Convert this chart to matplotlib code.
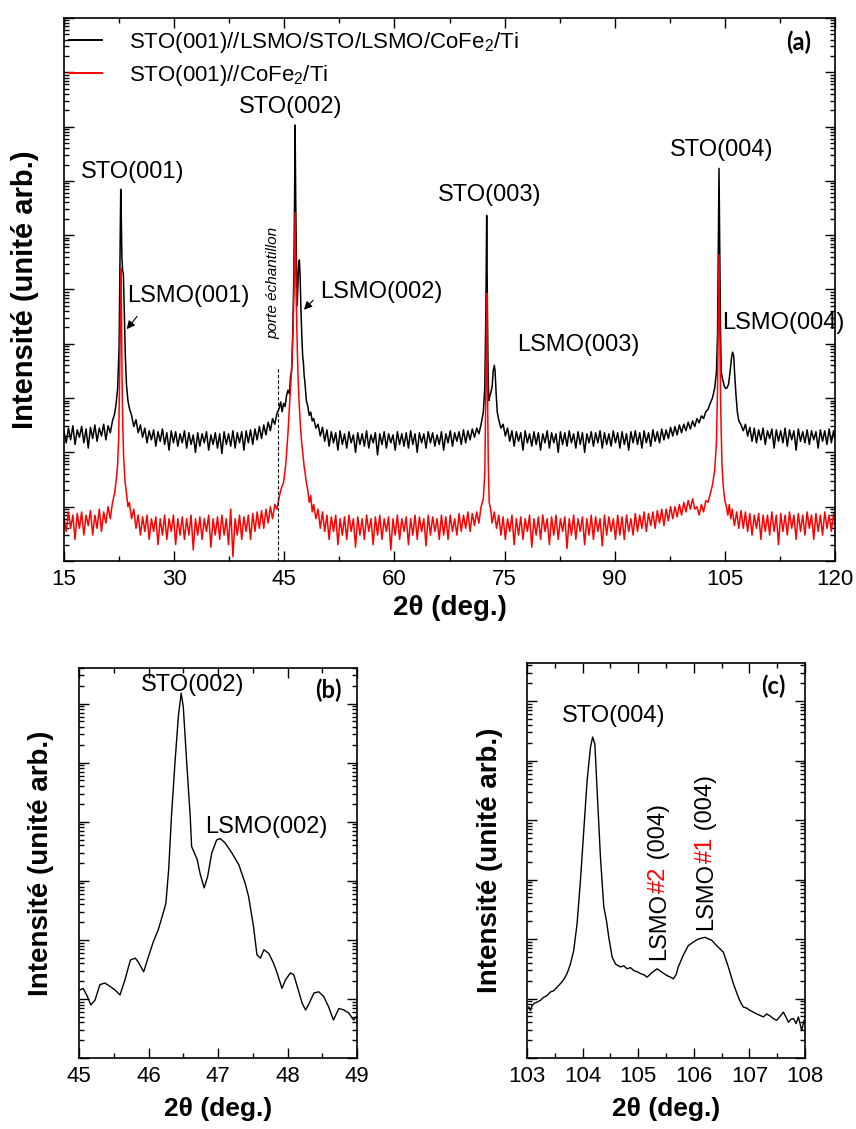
import matplotlib.pyplot as plt
from matplotlib.ticker import MultipleLocator, LogLocator, NullFormatter

plt.rcParams['font.family'] = ['Liberation Sans', 'DejaVu Sans']
plt.rcParams['mathtext.default'] = 'regular'

# ---- panel (a): full scans, (2theta, counts) ----
a_black = [
    (15.0, 240), (15.3, 150), (15.6, 280), (15.9, 170), (16.2, 310), (16.5, 140), (16.8, 260),
    (17.1, 190), (17.4, 300), (17.7, 150), (18.0, 270), (18.3, 120), (18.6, 290), (18.9, 180),
    (19.2, 320), (19.5, 160), (19.8, 280), (20.1, 200), (20.4, 330), (20.7, 170), (21.0, 310),
    (21.3, 230), (21.6, 380), (21.9, 520), (22.1, 800), (22.3, 1500), (22.5, 9000), (22.62, 3e5),
    (22.72, 7e6), (22.8, 2e6), (22.88, 4e5), (22.98, 2.2e5), (23.08, 2e5), (23.2, 4e4),
    (23.35, 6000), (23.5, 1800), (23.7, 900), (23.9, 650), (24.2, 480), (24.5, 300), (24.8, 400),
    (25.1, 230), (25.4, 320), (25.7, 190), (26.0, 280), (26.3, 150), (26.6, 250), (26.9, 170),
    (27.2, 260), (27.5, 130), (27.8, 240), (28.1, 160), (28.4, 270), (28.7, 140), (29.0, 230),
    (29.3, 110), (29.6, 250), (29.9, 150), (30.2, 240), (30.5, 130), (30.8, 220), (31.1, 150),
    (31.4, 250), (31.7, 120), (32.0, 230), (32.3, 140), (32.6, 210), (32.9, 100), (33.2, 230),
    (33.5, 130), (33.8, 220), (34.1, 150), (34.4, 240), (34.7, 110), (35.0, 210), (35.3, 140),
    (35.6, 230), (35.9, 120), (36.2, 220), (36.5, 95), (36.8, 240), (37.1, 140), (37.4, 220),
    (37.7, 130), (38.0, 250), (38.3, 120), (38.6, 230), (38.9, 150), (39.2, 240), (39.5, 110),
    (39.8, 250), (40.1, 150), (40.4, 260), (40.7, 140), (41.0, 270), (41.3, 170), (41.6, 300),
    (41.9, 180), (42.2, 320), (42.5, 210), (42.8, 360), (43.1, 250), (43.4, 420), (43.7, 330),
    (44.0, 520), (44.3, 650), (44.5, 850), (44.7, 560), (44.9, 800), (45.1, 700), (45.3, 1100),
    (45.5, 1400), (45.7, 1200), (45.85, 2500), (46.0, 3200), (46.15, 1.5e4), (46.3, 2e5),
    (46.4, 5e6), (46.47, 1.07e8), (46.55, 5e6), (46.65, 3e5), (46.75, 5e4), (46.85, 1.2e5),
    (46.95, 3e5), (47.05, 3.5e5), (47.15, 1.8e5), (47.25, 5e4), (47.4, 1.2e4), (47.5, 6000),
    (47.6, 4500), (47.7, 2600), (47.8, 2000), (47.9, 1300), (48.0, 900), (48.2, 700), (48.4, 480),
    (48.6, 550), (48.8, 380), (49.0, 420), (49.3, 280), (49.6, 330), (49.9, 200), (50.2, 290),
    (50.5, 160), (50.8, 260), (51.1, 130), (51.4, 240), (51.7, 150), (52.0, 230), (52.3, 110),
    (52.6, 250), (52.9, 140), (53.2, 220), (53.5, 120), (53.8, 240), (54.1, 150), (54.4, 210),
    (54.7, 100), (55.0, 230), (55.3, 140), (55.6, 220), (55.9, 130), (56.2, 250), (56.5, 120),
    (56.8, 210), (57.1, 150), (57.4, 230), (57.7, 90), (58.0, 220), (58.3, 140), (58.6, 240),
    (58.9, 120), (59.2, 220), (59.5, 150), (59.8, 210), (60.1, 110), (60.4, 240), (60.7, 140),
    (61.0, 220), (61.3, 130), (61.6, 230), (61.9, 120), (62.2, 250), (62.5, 140), (62.8, 220),
    (63.1, 100), (63.4, 230), (63.7, 150), (64.0, 220), (64.3, 120), (64.6, 240), (64.9, 150),
    (65.2, 230), (65.5, 130), (65.8, 210), (66.1, 140), (66.4, 240), (66.7, 110), (67.0, 220),
    (67.3, 150), (67.6, 250), (67.9, 130), (68.2, 230), (68.5, 160), (68.8, 240), (69.1, 140),
    (69.4, 260), (69.7, 150), (70.0, 250), (70.3, 170), (70.6, 270), (70.9, 190), (71.2, 280),
    (71.5, 220), (71.8, 330), (72.1, 550), (72.3, 1500), (72.45, 4e4), (72.56, 2.3e6),
    (72.65, 6e4), (72.75, 3000), (72.85, 900), (73.0, 1100), (73.15, 1300), (73.3, 1600),
    (73.45, 3200), (73.6, 4000), (73.7, 3200), (73.85, 1200), (74.0, 550), (74.2, 400),
    (74.5, 280), (74.8, 330), (75.1, 200), (75.4, 280), (75.7, 160), (76.0, 250), (76.3, 130),
    (76.6, 240), (76.9, 160), (77.2, 230), (77.5, 110), (77.8, 250), (78.1, 150), (78.4, 220),
    (78.7, 130), (79.0, 240), (79.3, 140), (79.6, 230), (79.9, 110), (80.2, 220), (80.5, 150),
    (80.8, 250), (81.1, 120), (81.4, 230), (81.7, 150), (82.0, 220), (82.3, 100), (82.6, 240),
    (82.9, 140), (83.2, 230), (83.5, 130), (83.8, 250), (84.1, 150), (84.4, 220), (84.7, 120),
    (85.0, 240), (85.3, 140), (85.6, 230), (85.9, 100), (86.2, 220), (86.5, 150), (86.8, 240),
    (87.1, 130), (87.4, 230), (87.7, 150), (88.0, 250), (88.3, 120), (88.6, 230), (88.9, 140),
    (89.2, 220), (89.5, 130), (89.8, 250), (90.1, 150), (90.4, 230), (90.7, 120), (91.0, 240),
    (91.3, 140), (91.6, 220), (91.9, 110), (92.2, 240), (92.5, 150), (92.8, 250), (93.1, 140),
    (93.4, 230), (93.7, 120), (94.0, 250), (94.3, 150), (94.6, 230), (94.9, 130), (95.2, 260),
    (95.5, 160), (95.8, 240), (96.1, 150), (96.4, 270), (96.7, 170), (97.0, 260), (97.3, 180),
    (97.6, 290), (97.9, 200), (98.2, 300), (98.5, 210), (98.8, 320), (99.1, 230), (99.4, 330),
    (99.7, 250), (100.0, 360), (100.3, 270), (100.6, 380), (100.9, 300), (101.2, 420),
    (101.5, 350), (101.8, 470), (102.1, 420), (102.4, 560), (102.7, 620), (103.0, 800),
    (103.3, 1000), (103.6, 1500), (103.85, 3000), (104.0, 1.5e4), (104.12, 1e6), (104.2, 1.7e7),
    (104.28, 1e6), (104.4, 2e4), (104.5, 3000), (104.7, 2200), (104.9, 1700), (105.1, 1500),
    (105.3, 1550), (105.5, 1800), (105.7, 3000), (105.9, 5500), (106.05, 7000), (106.2, 6000),
    (106.35, 2500), (106.5, 1200), (106.7, 550), (106.9, 380), (107.2, 320), (107.5, 250),
    (107.8, 330), (108.1, 200), (108.4, 290), (108.7, 160), (109.0, 280), (109.3, 150),
    (109.6, 260), (109.9, 170), (110.2, 280), (110.5, 140), (110.8, 250), (111.1, 180),
    (111.4, 270), (111.7, 120), (112.0, 260), (112.3, 160), (112.6, 250), (112.9, 150),
    (113.2, 280), (113.5, 130), (113.8, 260), (114.1, 170), (114.4, 250), (114.7, 110),
    (115.0, 270), (115.3, 160), (115.6, 240), (115.9, 150), (116.2, 260), (116.5, 140),
    (116.8, 250), (117.1, 170), (117.4, 240), (117.7, 120), (118.0, 260), (118.3, 160),
    (118.6, 250), (118.9, 140), (119.2, 270), (119.5, 150), (119.8, 250), (120.0, 180),
]

a_red = [
    (15.0, 6), (15.3, 3.5), (15.6, 8), (15.9, 4), (16.2, 7), (16.5, 2.5), (16.8, 7.5), (17.1, 4),
    (17.4, 8), (17.7, 3), (18.0, 7), (18.3, 4.5), (18.6, 8.5), (18.9, 3), (19.2, 7), (19.5, 4),
    (19.8, 9), (20.1, 3.5), (20.4, 8), (20.7, 5), (21.0, 10), (21.3, 6), (21.6, 12), (21.9, 18),
    (22.1, 30), (22.3, 60), (22.45, 200), (22.58, 3000), (22.68, 5e4), (22.75, 2.5e5),
    (22.82, 4e4), (22.9, 2500), (23.0, 300), (23.12, 80), (23.3, 30), (23.5, 18), (23.7, 10),
    (23.9, 12), (24.2, 6), (24.5, 9), (24.8, 4), (25.1, 7), (25.4, 3), (25.7, 6.5), (26.0, 3.5),
    (26.3, 7), (26.6, 2.5), (26.9, 6), (27.2, 3.5), (27.5, 6.5), (27.8, 2), (28.1, 6), (28.4, 3),
    (28.7, 7), (29.0, 2.5), (29.3, 6), (29.6, 3.5), (29.9, 7), (30.2, 2), (30.5, 6), (30.8, 3),
    (31.1, 6.5), (31.4, 2.5), (31.7, 6), (32.0, 3), (32.3, 7), (32.6, 1.6), (32.9, 6), (33.2, 3),
    (33.5, 6.5), (33.8, 2.5), (34.1, 6), (34.4, 3.5), (34.7, 7), (35.0, 1.8), (35.3, 6),
    (35.6, 3), (35.9, 6.5), (36.2, 2.5), (36.5, 7), (36.8, 3), (37.1, 6), (37.4, 2), (37.7, 9),
    (38.0, 1.2), (38.3, 6), (38.6, 3), (38.9, 7), (39.2, 2.5), (39.5, 6.5), (39.8, 3.5),
    (40.1, 7), (40.4, 2.5), (40.7, 7.5), (41.0, 3.5), (41.3, 8), (41.6, 4), (41.9, 8.5),
    (42.2, 4), (42.5, 9), (42.8, 5), (43.1, 10), (43.4, 6), (43.7, 11), (44.0, 9), (44.3, 15),
    (44.6, 22), (44.9, 28), (45.2, 60), (45.5, 230), (45.75, 900), (46.0, 3700), (46.2, 2e4),
    (46.35, 1.5e5), (46.47, 2.6e6), (46.58, 1.5e5), (46.7, 2e4), (46.85, 3000), (47.0, 900),
    (47.2, 300), (47.35, 160), (47.5, 100), (47.7, 55), (47.85, 40), (48.0, 28), (48.2, 20),
    (48.4, 12), (48.6, 16), (48.8, 8), (49.0, 11), (49.3, 6), (49.6, 9), (49.9, 4), (50.2, 8),
    (50.5, 3.5), (50.8, 7), (51.1, 2.5), (51.4, 6.5), (51.7, 3.5), (52.0, 7), (52.3, 2),
    (52.6, 6), (52.9, 3), (53.2, 6.5), (53.5, 2.5), (53.8, 7), (54.1, 3.5), (54.4, 6),
    (54.7, 1.8), (55.0, 6.5), (55.3, 3), (55.6, 6), (55.9, 2.5), (56.2, 7), (56.5, 3.5),
    (56.8, 6), (57.1, 2), (57.4, 6.5), (57.7, 3), (58.0, 7), (58.3, 2.5), (58.6, 6), (58.9, 3.5),
    (59.2, 6.5), (59.5, 1.6), (59.8, 6), (60.1, 3), (60.4, 7), (60.7, 2.5), (61.0, 6),
    (61.3, 3.5), (61.6, 6.5), (61.9, 2), (62.2, 6), (62.5, 3), (62.8, 7), (63.1, 2.5),
    (63.4, 6.5), (63.7, 3.5), (64.0, 6), (64.3, 1.9), (64.6, 7), (64.9, 3), (65.2, 6.5),
    (65.5, 3.5), (65.8, 6), (66.1, 2.5), (66.4, 7), (66.7, 3), (67.0, 6.5), (67.3, 2.5),
    (67.6, 7), (67.9, 3.5), (68.2, 6), (68.5, 3), (68.8, 7.5), (69.1, 3.5), (69.4, 7), (69.7, 4),
    (70.0, 8), (70.3, 3.5), (70.6, 7.5), (70.9, 4.5), (71.2, 8), (71.5, 5), (71.8, 10),
    (72.1, 14), (72.3, 40), (72.45, 1500), (72.56, 8.5e4), (72.66, 2000), (72.78, 60),
    (72.9, 12), (73.1, 9), (73.3, 5), (73.6, 8), (73.9, 4), (74.2, 7), (74.5, 3), (74.8, 6.5),
    (75.1, 2.5), (75.4, 6), (75.7, 3.5), (76.0, 7), (76.3, 2), (76.6, 6), (76.9, 3), (77.2, 6.5),
    (77.5, 2.5), (77.8, 6), (78.1, 3.5), (78.4, 7), (78.7, 1.8), (79.0, 6), (79.3, 3),
    (79.6, 6.5), (79.9, 2.5), (80.2, 7), (80.5, 3.5), (80.8, 6), (81.1, 2), (81.4, 6.5),
    (81.7, 3), (82.0, 7), (82.3, 2.5), (82.6, 6), (82.9, 3.5), (83.2, 6.5), (83.5, 1.7),
    (83.8, 6), (84.1, 3), (84.4, 7), (84.7, 2.5), (85.0, 6), (85.3, 3.5), (85.6, 6.5), (85.9, 2),
    (86.2, 6), (86.5, 3), (86.8, 7), (87.1, 2.5), (87.4, 6.5), (87.7, 3.5), (88.0, 6),
    (88.3, 1.9), (88.6, 7), (88.9, 3), (89.2, 6.5), (89.5, 3.5), (89.8, 6), (90.1, 2.5),
    (90.4, 7), (90.7, 3), (91.0, 6.5), (91.3, 2.5), (91.6, 7), (91.9, 3.5), (92.2, 6), (92.5, 3),
    (92.8, 7.5), (93.1, 3.5), (93.4, 7), (93.7, 4), (94.0, 8), (94.3, 3.5), (94.6, 7.5),
    (94.9, 4.5), (95.2, 8), (95.5, 4), (95.8, 8.5), (96.1, 5), (96.4, 9), (96.7, 4.5), (97.0, 9),
    (97.3, 5.5), (97.6, 10), (97.9, 6), (98.2, 10), (98.5, 6.5), (98.8, 11), (99.1, 7),
    (99.4, 12), (99.7, 8), (100.0, 13), (100.3, 9), (100.6, 14), (100.9, 9), (101.2, 10),
    (101.5, 7), (101.8, 11), (102.1, 8), (102.4, 13), (102.7, 12), (103.0, 17), (103.3, 25),
    (103.6, 45), (103.85, 150), (104.0, 1500), (104.1, 3e4), (104.2, 4.4e5), (104.3, 2e4),
    (104.42, 800), (104.6, 60), (104.8, 22), (105.0, 13), (105.2, 10), (105.4, 7), (105.6, 11),
    (105.8, 6), (106.0, 9), (106.3, 4.5), (106.6, 8), (106.9, 4), (107.2, 8.5), (107.5, 4),
    (107.8, 8), (108.1, 3.5), (108.4, 7.5), (108.7, 3), (109.0, 7), (109.3, 4), (109.6, 7.5),
    (109.9, 2.5), (110.2, 7), (110.5, 3.5), (110.8, 7), (111.1, 3), (111.4, 8), (111.7, 3.5),
    (112.0, 7), (112.3, 2), (112.6, 7.5), (112.9, 3.5), (113.2, 7), (113.5, 3), (113.8, 8),
    (114.1, 4), (114.4, 7), (114.7, 2.5), (115.0, 7.5), (115.3, 3.5), (115.6, 7), (115.9, 3),
    (116.2, 8), (116.5, 4), (116.8, 7), (117.1, 2.5), (117.4, 7.5), (117.7, 3.5), (118.0, 7),
    (118.3, 3), (118.6, 8), (118.9, 4), (119.2, 7), (119.5, 3.5), (119.8, 7.5), (120.0, 5),
]

a_labels = ['STO(001)//LSMO/STO/LSMO/CoFe$_2$/Ti', 'STO(001)//CoFe$_2$/Ti']
holder_tt = 44.1        # sample holder reflection
holder_top = 3700

# ---- panel (b): zoom on the (002) reflections ----
b_tt = [45.01, 45.06, 45.12, 45.17, 45.23, 45.30, 45.37, 45.45, 45.52, 45.59, 45.66, 45.74,
        45.81, 45.85, 45.93, 46.00, 46.07, 46.14, 46.21, 46.25, 46.29, 46.33, 46.38, 46.43,
        46.47, 46.50, 46.55, 46.60, 46.62, 46.70, 46.74, 46.80, 46.85, 46.91, 46.98, 47.03,
        47.10, 47.20, 47.30, 47.39, 47.44, 47.51, 47.56, 47.61, 47.66, 47.73, 47.80, 47.85,
        47.92, 47.97, 48.04, 48.09, 48.14, 48.21, 48.26, 48.30, 48.38, 48.45, 48.52, 48.59,
        48.66, 48.74, 48.81, 48.88, 48.95, 48.99]
b_counts = [141, 151, 110, 79, 95, 174, 186, 162, 141, 117, 209, 457,
            490, 427, 288, 525, 933, 1480, 2820, 4170, 15500, 1.23e5, 9.8e5, 6.2e6,
            1.5e7, 8.9e6, 9.8e5, 1.23e5, 3.8e4, 2.3e4, 1.35e4, 7600, 1.17e4, 2.95e4, 4.9e4, 5.2e4,
            4.4e4, 2.95e4, 1.86e4, 9100, 5400, 1700, 560, 490, 680, 590, 400, 275,
            151, 209, 275, 257, 162, 85, 65, 79, 126, 132, 110, 74,
            44, 69, 65, 58, 44, 50]

# ---- panel (c): zoom on the (004) reflections ----
c_tt = [103.03, 103.06, 103.09, 103.13, 103.18, 103.24, 103.30, 103.36, 103.42, 103.48, 103.54,
        103.60, 103.66, 103.72, 103.78, 103.84, 103.90, 103.96, 104.02, 104.08, 104.14, 104.18,
        104.22, 104.26, 104.32, 104.38, 104.43, 104.47, 104.53, 104.59, 104.68, 104.74, 104.80,
        104.86, 104.92, 104.98, 105.04, 105.10, 105.16, 105.25, 105.34, 105.43, 105.51, 105.58,
        105.63, 105.68, 105.72, 105.81, 105.90, 105.99, 106.08, 106.20, 106.32, 106.41, 106.53,
        106.62, 106.71, 106.80, 106.85, 106.89, 106.95, 107.01, 107.07, 107.13, 107.19, 107.25,
        107.31, 107.37, 107.43, 107.49, 107.55, 107.61, 107.66, 107.70, 107.75, 107.79, 107.84,
        107.88, 107.94, 107.98]
c_counts = [72, 63, 76, 83, 87, 93, 105, 112, 129, 135, 155,
            178, 209, 263, 380, 646, 1820, 9550, 6.6e4, 4.6e5, 1.66e6, 2.5e6,
            1.9e6, 3.2e5, 2.4e4, 3500, 2000, 1070, 500, 380, 340, 355, 316,
            331, 295, 282, 263, 251, 229, 275, 316, 275, 245, 229,
            214, 251, 340, 537, 776, 891, 1000, 1070, 955, 776, 603,
            340, 178, 105, 83, 72, 69, 63, 59, 55, 52, 49,
            55, 51, 46, 43, 50, 59, 48, 40, 45, 46, 38,
            49, 29, 43]


def style_axes(ax, xlim, ylim, major, minor):
    ax.set_yscale('log')
    ax.set_xlim(*xlim)
    ax.set_ylim(*ylim)
    ax.xaxis.set_major_locator(MultipleLocator(major))
    ax.xaxis.set_minor_locator(MultipleLocator(minor))
    ax.yaxis.set_major_locator(LogLocator(base=10, numticks=30))
    ax.yaxis.set_minor_locator(LogLocator(base=10, subs=range(2, 10), numticks=30))
    ax.yaxis.set_major_formatter(NullFormatter())
    ax.yaxis.set_minor_formatter(NullFormatter())
    ax.tick_params(which='both', direction='in', top=True, right=True, width=1)
    ax.tick_params(which='major', length=7, labelsize=16, pad=6)
    ax.tick_params(which='minor', length=3.5)
    for sp in ax.spines.values():
        sp.set_linewidth(1.2)


def label(ax, x, y, s, ha='center'):
    ax.text(x, y, s, ha=ha, va='center', fontsize=17)


fig = plt.figure(figsize=(8.56, 11.29), dpi=100)

# (a)
ax1 = fig.add_axes([0.0748, 0.5031, 0.9007, 0.481])
tt_k, y_k = zip(*a_black)
tt_r, y_r = zip(*a_red)
ax1.plot(tt_k, y_k, color='black', lw=1.1, label=a_labels[0])
ax1.plot(tt_r, y_r, color='red', lw=1.1, label=a_labels[1])
ax1.vlines(holder_tt, 1, holder_top, colors='black', linestyles=(0, (3, 2)), lw=0.8)
style_axes(ax1, (15, 120), (1, 1e10), 15, 7.5)
ax1.set_xlabel('2θ (deg.)', fontsize=20, fontweight='bold', labelpad=3)
ax1.set_ylabel('Intensité (unité arb.)', fontsize=21, fontweight='bold', labelpad=12)
leg = ax1.legend(loc='upper left', bbox_to_anchor=(0.006, 0.978), frameon=False, fontsize=16,
                 handlelength=1.5, handletextpad=1.2, labelspacing=0.35, borderaxespad=0,
                 borderpad=0)
for h in leg.get_lines():
    h.set_linewidth(1.4)
ax1.text(0.953, 0.956, '(a)', transform=ax1.transAxes, fontsize=17, fontweight='bold',
         family=['Lato', 'DejaVu Sans'], ha='center', va='center')

label(ax1, 24.3, 1.45e7, 'STO(001)')
label(ax1, 45.9, 2.3e8, 'STO(002)')
label(ax1, 73.0, 5.5e6, 'STO(003)')
label(ax1, 104.6, 3.7e7, 'STO(004)')
label(ax1, 23.6, 7.6e4, 'LSMO(001)', ha='left')
label(ax1, 49.9, 8.9e4, 'LSMO(002)', ha='left')
label(ax1, 76.7, 9.5e3, 'LSMO(003)', ha='left')
label(ax1, 104.6, 2.4e4, 'LSMO(004)', ha='left')
ax1.text(43.5, 1.3e5, 'porte échantillon', rotation=90, style='italic', fontsize=11,
         ha='center', va='center')
arrow = dict(arrowstyle='-|>', color='black', lw=0.8, mutation_scale=12)
ax1.annotate('', xy=(23.3, 1.7e4), xytext=(25.2, 3.5e4), arrowprops=arrow)
ax1.annotate('', xy=(47.4, 3.9e4), xytext=(49.2, 6.9e4), arrowprops=arrow)

# (b)
ax2 = fig.add_axes([0.0923, 0.0629, 0.3248, 0.3454])
ax2.plot(b_tt, b_counts, color='black', lw=1.0)
style_axes(ax2, (45, 49), (10, 4e7), 1, 0.5)
ax2.set_xlabel('2θ (deg.)', fontsize=19, fontweight='bold', labelpad=7)
ax2.set_ylabel('Intensité (unité arb.)', fontsize=20, fontweight='bold', labelpad=12)
label(ax2, 46.63, 2.1e7, 'STO(002)')
label(ax2, 47.70, 8.3e4, 'LSMO(002)')
ax2.text(0.896, 0.944, '(b)', transform=ax2.transAxes, fontsize=17, fontweight='bold',
         family=['Lato', 'DejaVu Sans'], ha='center', va='center')

# (c)
ax3 = fig.add_axes([0.6157, 0.0629, 0.3248, 0.3499])
ax3.plot(c_tt, c_counts, color='black', lw=1.0)
style_axes(ax3, (103, 108), (10, 4.4e7), 1, 0.5)
ax3.set_xlabel('2θ (deg.)', fontsize=19, fontweight='bold', labelpad=7)
ax3.set_ylabel('Intensité (unité arb.)', fontsize=20, fontweight='bold', labelpad=11)
label(ax3, 104.55, 5.6e6, 'STO(004)')
ax3.text(0.885, 0.94, '(c)', transform=ax3.transAxes, fontsize=17, fontweight='bold',
         family=['Lato', 'DejaVu Sans'], ha='center', va='center')

for x0, y0, tag in [(105.37, 450, '#2'), (106.22, 1400, '#1')]:
    t1 = ax3.text(x0, y0, 'LSMO', rotation=90, ha='center', va='bottom', fontsize=17)
    t2 = ax3.annotate(tag, xy=(0.5, 1), xycoords=t1, rotation=90, ha='center', va='bottom',
                      fontsize=17, color='red')
    ax3.annotate(' (004)', xy=(0.5, 1), xycoords=t2, rotation=90, ha='center', va='bottom',
                 fontsize=17)

fig.savefig('out.png', dpi=100)
